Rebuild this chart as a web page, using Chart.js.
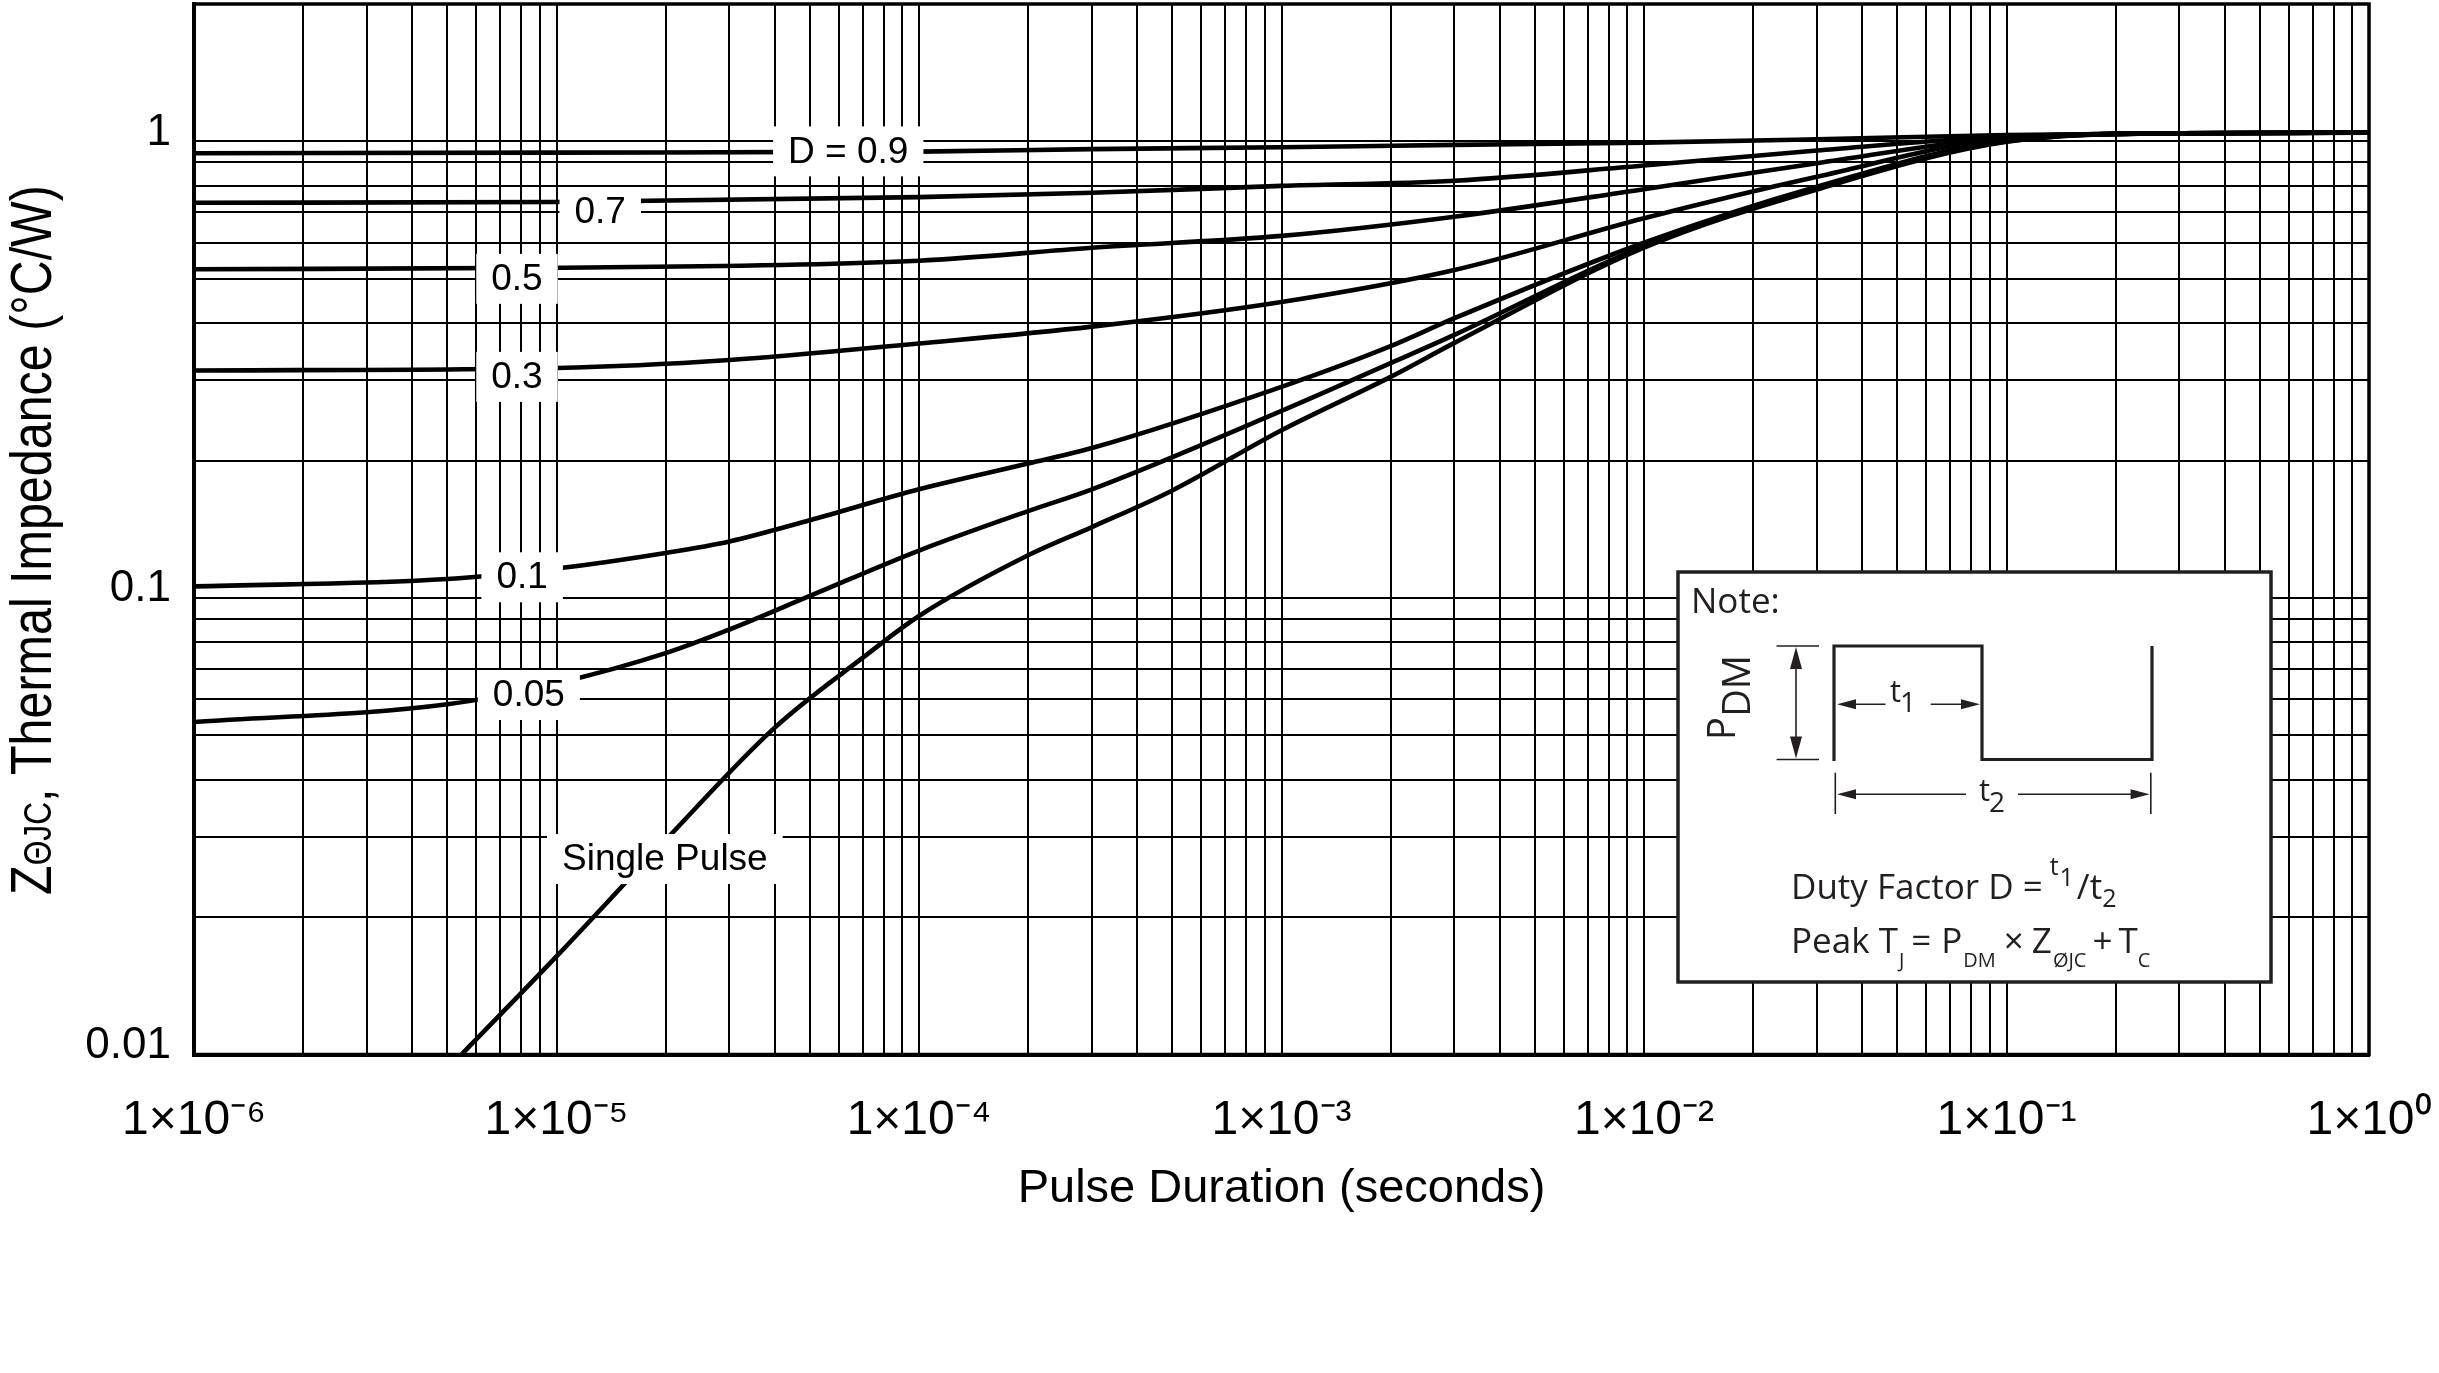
<!DOCTYPE html>
<html>
<head>
<meta charset="utf-8">
<script src="https://cdn.jsdelivr.net/npm/chart.js@4.4.1/dist/chart.umd.min.js"></script>
<style>
html,body{margin:0;padding:0;background:#fff;}
#wrap{position:relative;width:2439px;height:1373px;}
</style>
</head>
<body>
<div id="wrap"><canvas id="c"></canvas></div>
<script>
// ---------- data ----------
const tD09 = [1e-6, 1e-5, 1e-4, 3e-4, 1e-3, 3e-3, 1e-2, 3e-2, 1e-1, 3e-1, 1];
const zD09 = [0.942, 0.945, 0.950, 0.962, 0.971, 0.983, 0.994, 1.011, 1.033, 1.042, 1.045];

const tD07 = [1e-6, 1e-5, 1e-4, 3e-4, 1e-3, 3e-3, 1e-2, 3e-2, 1e-1, 3e-1, 1];
const zD07 = [0.734, 0.737, 0.755, 0.772, 0.799, 0.820, 0.886, 0.955, 1.025, 1.042, 1.045];

const tD05 = [1e-6, 1e-5, 1e-4, 3e-4, 1e-3, 3e-3, 1e-2, 3e-2, 1e-1, 3e-1, 1];
const zD05 = [0.525, 0.529, 0.548, 0.585, 0.621, 0.684, 0.786, 0.896, 1.020, 1.042, 1.045];

const tD03 = [1e-6, 1e-5, 3e-5, 1e-4, 3e-4, 1e-3, 3e-3, 1e-2, 3e-2, 1e-1, 3e-1, 1];
const zD03 = [0.315, 0.319, 0.332, 0.361, 0.393, 0.445, 0.523, 0.679, 0.837, 1.015, 1.042, 1.045];

const tD01 = [1e-6, 5e-6, 1e-5, 2e-5, 3e-5, 5e-5, 1e-4, 2e-4, 3e-4, 1e-3, 2e-3, 3e-3, 1e-2, 3e-2, 1e-1, 3e-1, 1];
const zD01 = [0.106, 0.110, 0.116, 0.1255, 0.133, 0.148, 0.173, 0.197, 0.213, 0.290, 0.356, 0.410, 0.600, 0.796, 1.005, 1.042, 1.045];

const tD005 = [1e-6, 5e-6, 1e-5, 2e-5, 3e-5, 5e-5, 1e-4, 2e-4, 3e-4, 1e-3, 2e-3, 3e-3, 1e-2, 3e-2, 1e-1, 3e-1, 1];
const zD005 = [0.0535, 0.0585, 0.065, 0.0757, 0.0853, 0.101, 0.127, 0.155, 0.173, 0.257, 0.327, 0.377, 0.590, 0.790, 1.000, 1.042, 1.045];

const tSingle = [5.47e-6, 1e-5, 2e-5, 4e-5, 7e-5, 1e-4, 2e-4, 3e-4, 5e-4, 1e-3, 2e-3, 3e-3, 1e-2, 3e-2, 1e-1, 3e-1, 1];
const zSingle = [0.01, 0.0164, 0.0295, 0.052, 0.074, 0.0913, 0.124, 0.143, 0.172, 0.233, 0.305, 0.362, 0.585, 0.785, 0.998, 1.042, 1.045];

// curve labels and where they sit (data coordinates)
const curveLabels = ['D = 0.9', '0.7', '0.5', '0.3', '0.1', '0.05', 'Single Pulse'];
const labelT = [6.38e-5, 1.32e-5, 7.78e-6, 7.78e-6, 8.04e-6, 8.39e-6, 1.99e-5];
const labelZ = [0.951, 0.70, 0.50, 0.305, 0.111, 0.0613, 0.0268];

// tick labels
const xTickLabels = ['1×10⁻⁶', '1×10⁻⁵', '1×10⁻⁴', '1×10⁻³', '1×10⁻²', '1×10⁻¹', '1×10⁰'];
const xDecades = [-6, -5, -4, -3, -2, -1, 0];
const yTickLabels = ['0.01', '0.1', '1'];
const yDecades = [-2, -1, 0];
const xMantissas = [1, 2, 3, 4, 5, 6, 7, 8, 9];

const xAxisTitle = 'Pulse Duration (seconds)';
const yTitleMain = 'Z';
const yTitleSub = 'ΘJC';
const yTitleRest = ', Thermal Impedance (°C/W)';

// ---------- helpers ----------
const FONT = '"Liberation Sans", Arial, Helvetica, sans-serif';
const NFONT = '"Open Sans", "Noto Sans", sans-serif';

function pts(ts, zs) { return ts.map((t, i) => ({x: t, y: zs[i]})); }

const xTickValues = [];
xDecades.forEach(e => {
  if (e < 0) xMantissas.forEach(m => xTickValues.push(m * Math.pow(10, e)));
  else xTickValues.push(Math.pow(10, e));
});
const yTickValues = [];
for (let e = -2; e <= 0; e++) {
  xMantissas.forEach(m => { if (e < 0 || m <= 2) yTickValues.push(m * Math.pow(10, e)); });
}

function decadeOf(v) {
  const e = Math.log10(v), r = Math.round(e);
  return Math.abs(e - r) < 1e-6 ? r : null;
}

function arrowHead(ctx, tx, ty, dx, dy, len, half) {
  const bx = tx - dx * len, by = ty - dy * len;
  const nx = -dy, ny = dx;
  ctx.beginPath();
  ctx.moveTo(tx, ty);
  ctx.lineTo(bx + nx * half, by + ny * half);
  ctx.lineTo(bx - nx * half, by - ny * half);
  ctx.closePath();
  ctx.fill();
}
function line(ctx, x1, y1, x2, y2) {
  ctx.beginPath(); ctx.moveTo(x1, y1); ctx.lineTo(x2, y2); ctx.stroke();
}
// draw a run of [text, size, baselineY, gapAfter] pieces from x
function run(ctx, x, pieces) {
  pieces.forEach(([txt, size, by, gap]) => {
    ctx.font = size + 'px ' + NFONT;
    ctx.fillText(txt, x, by);
    x += ctx.measureText(txt).width + (gap || 0);
  });
  return x;
}

function drawNote(ctx) {
  const ink = '#231f20';
  ctx.save();
  ctx.fillStyle = '#fff';
  ctx.fillRect(1678, 572, 593, 410);
  ctx.strokeStyle = ink;
  ctx.lineWidth = 3.5;
  ctx.strokeRect(1678, 572, 593, 410);

  ctx.fillStyle = ink;
  ctx.textAlign = 'left';
  ctx.textBaseline = 'alphabetic';
  ctx.font = '35px ' + NFONT;
  ctx.fillText('Note:', 1691, 613, 96);

  // waveform
  ctx.lineWidth = 3.2;
  ctx.lineJoin = 'miter';
  ctx.beginPath();
  ctx.moveTo(1834, 761);
  ctx.lineTo(1834, 646);
  ctx.lineTo(1982, 646);
  ctx.lineTo(1982, 759.5);
  ctx.lineTo(2152, 759.5);
  ctx.lineTo(2152, 646);
  ctx.stroke();

  // P_DM dimension
  ctx.lineWidth = 1.6;
  line(ctx, 1776.5, 646, 1819, 646);
  line(ctx, 1776.5, 759.5, 1819, 759.5);
  line(ctx, 1796, 660, 1796, 745);
  arrowHead(ctx, 1796, 647, 0, -1, 22, 6);
  arrowHead(ctx, 1796, 758.5, 0, 1, 22, 6);

  // t1 dimension
  line(ctx, 1850, 704.3, 1885.5, 704.3);
  arrowHead(ctx, 1837, 704.3, -1, 0, 19, 5);
  line(ctx, 1930.7, 704.3, 1966, 704.3);
  arrowHead(ctx, 1980, 704.3, 1, 0, 19, 5);

  // t2 dimension
  line(ctx, 1835.3, 772.7, 1835.3, 814);
  line(ctx, 2150.8, 772.7, 2150.8, 814);
  line(ctx, 1850, 794.3, 1966, 794.3);
  arrowHead(ctx, 1837, 794.3, -1, 0, 19, 5);
  line(ctx, 2018, 794.3, 2136, 794.3);
  arrowHead(ctx, 2149.6, 794.3, 1, 0, 19, 5);

  // t1, t2 text
  ctx.font = '31px ' + NFONT;
  ctx.fillText('t', 1890, 701.7);
  ctx.fillText('t', 1979, 800.5);
  ctx.font = '28px ' + NFONT;
  ctx.fillText('1', 1900, 711.7);
  ctx.fillText('2', 1989, 811.7);

  // P_DM rotated
  ctx.save();
  ctx.translate(1735, 740);
  ctx.rotate(-Math.PI / 2);
  ctx.font = '38px ' + NFONT;
  ctx.fillText('P', 0, 0);
  ctx.fillText('DM', 23.3, 14.5);
  ctx.restore();

  // Duty factor
  run(ctx, 1791, [
    ['Duty Factor D =', 35, 899.3, 7],
    ['t', 25, 875, 1],
    ['1', 25, 886, 3],
    ['/t', 35, 899.3, 0],
    ['2', 25, 906.5, 0]
  ]);

  // Peak TJ
  run(ctx, 1791, [
    ['Peak T', 35, 952.7, 1],
    ['J', 20, 966.5, 7],
    ['=', 35, 952.7, 10],
    ['P', 35, 952.7, 1],
    ['DM', 20, 966.5, 8],
    ['×', 35, 952.7, 8],
    ['Z', 35, 952.7, 1],
    ['ØJC', 20, 966.5, 6],
    ['+', 35, 952.7, 6],
    ['T', 35, 952.7, 0],
    ['C', 20, 966.5, 0]
  ]);
  ctx.restore();
}

function drawYTitle(ctx) {
  const main = 58, sub = 38, sx = 0.835;
  ctx.save();
  ctx.translate(51, 540);
  ctx.rotate(-Math.PI / 2);
  ctx.scale(sx, 1);
  ctx.fillStyle = '#000';
  ctx.textAlign = 'left';
  ctx.textBaseline = 'alphabetic';
  ctx.font = main + 'px ' + FONT;
  const w1 = ctx.measureText(yTitleMain).width;
  const w3 = ctx.measureText(yTitleRest).width;
  ctx.font = sub + 'px ' + FONT;
  const w2 = ctx.measureText(yTitleSub).width;
  let x = -(w1 + w2 + w3) / 2;
  ctx.font = main + 'px ' + FONT;
  ctx.fillText(yTitleMain, x, 0); x += w1;
  ctx.font = sub + 'px ' + FONT;
  ctx.fillText(yTitleSub, x, 0); x += w2;
  ctx.font = main + 'px ' + FONT;
  ctx.fillText(yTitleRest, x, 0);
  ctx.restore();
}

const overlay = {
  id: 'overlay',
  afterDatasetsDraw(chart) {
    const {ctx, chartArea: a, scales: {x, y}} = chart;
    ctx.save();
    ctx.font = '37px ' + FONT;
    ctx.textAlign = 'center';
    ctx.textBaseline = 'middle';
    curveLabels.forEach((txt, i) => {
      const px = x.getPixelForValue(labelT[i]);
      const py = y.getPixelForValue(labelZ[i]);
      const w = ctx.measureText(txt).width + 30, h = 50;
      ctx.fillStyle = '#fff';
      ctx.fillRect(px - w / 2, py - h / 2, w, h);
      ctx.fillStyle = '#000';
      ctx.fillText(txt, px, py + 1);
    });
    ctx.restore();
    drawNote(ctx);
    ctx.save();
    ctx.lineWidth = 3.5;
    ctx.strokeStyle = '#000';
    ctx.strokeRect(a.left, a.top, a.right - a.left, a.bottom - a.top);
    ctx.restore();
  },
  afterDraw(chart) { drawYTitle(chart.ctx); }
};

const ds = (label, t, z) => ({
  label, data: pts(t, z),
  borderColor: '#000', borderWidth: 4.6, pointRadius: 0, fill: false,
  cubicInterpolationMode: 'monotone'
});

new Chart(document.getElementById('c'), {
  type: 'line',
  data: {
    datasets: [
      ds('D = 0.9', tD09, zD09),
      ds('D = 0.7', tD07, zD07),
      ds('D = 0.5', tD05, zD05),
      ds('D = 0.3', tD03, zD03),
      ds('D = 0.1', tD01, zD01),
      ds('D = 0.05', tD005, zD005),
      ds('Single Pulse', tSingle, zSingle)
    ]
  },
  options: {
    responsive: true,
    maintainAspectRatio: false,
    animation: false,
    devicePixelRatio: 1,
    layout: {padding: {left: 0, right: 70, top: 4, bottom: 0}},
    plugins: {legend: {display: false}, tooltip: {enabled: false}},
    scales: {
      x: {
        type: 'logarithmic',
        min: 1e-6, max: 1,
        afterBuildTicks(scale) { scale.ticks = xTickValues.map(v => ({value: v})); },
        afterFit(scale) {
          scale.height = 318.5;
          scale.paddingLeft = 0; scale.paddingRight = 0;
        },
        grid: {color: '#000', lineWidth: 2, drawTicks: false},
        border: {display: true, color: '#000', width: 4},
        ticks: {
          autoSkip: false, maxRotation: 0, minRotation: 0, padding: 37,
          color: '#000', font: {family: FONT, size: 48},
          callback(v) {
            const d = decadeOf(v);
            return d === null ? '' : xTickLabels[xDecades.indexOf(d)];
          }
        },
        title: {
          display: true, text: xAxisTitle, color: '#000',
          font: {family: FONT, size: 47}, padding: {top: 0, bottom: 156}
        }
      },
      y: {
        type: 'logarithmic',
        min: 0.01, max: 2,
        afterBuildTicks(scale) { scale.ticks = yTickValues.map(v => ({value: v})); },
        afterFit(scale) {
          scale.width = 194;
          scale.paddingTop = 0; scale.paddingBottom = 0;
        },
        grid: {color: '#000', lineWidth: 2, drawTicks: false},
        border: {display: true, color: '#000', width: 4},
        ticks: {
          autoSkip: false, padding: 23, labelOffset: -9,
          color: '#000', font: {family: FONT, size: 44},
          callback(v) {
            const d = decadeOf(v);
            return d === null ? '' : (yDecades.indexOf(d) >= 0 ? yTickLabels[yDecades.indexOf(d)] : '');
          }
        }
      }
    }
  },
  plugins: [overlay]
});
</script>
</body>
</html>
